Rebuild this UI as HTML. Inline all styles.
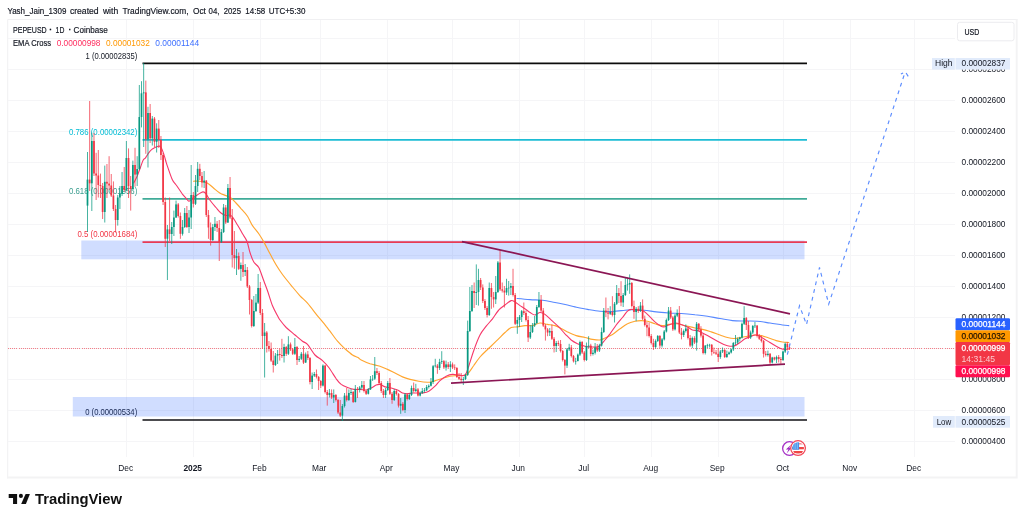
<!DOCTYPE html>
<html lang="en"><head><meta charset="utf-8"><title>PEPEUSD chart</title>
<style>html,body{margin:0;padding:0;background:#fff}body{width:1024px;height:521px;overflow:hidden}svg{display:block}</style>
</head><body>
<svg width="1024" height="521" viewBox="0 0 1024 521" font-family='"Liberation Sans", sans-serif'>
<rect width="1024" height="521" fill="#fff"/>
<path d="M7.7 478.4V19.5H1017.6" fill="none" stroke="#f0f0f2" stroke-width="1"/>
<path d="M1016.7 19.5V477.5H7.2" fill="none" stroke="#f3f3f4" stroke-width="1.9"/>
<g stroke="#f5f5f7" stroke-width="1" shape-rendering="crispEdges">
<line x1="8" x2="955" y1="441.5" y2="441.5"/>
<line x1="8" x2="955" y1="410.5" y2="410.5"/>
<line x1="8" x2="955" y1="379.5" y2="379.5"/>
<line x1="8" x2="955" y1="348.5" y2="348.5"/>
<line x1="8" x2="955" y1="317.5" y2="317.5"/>
<line x1="8" x2="955" y1="286.5" y2="286.5"/>
<line x1="8" x2="955" y1="255.5" y2="255.5"/>
<line x1="8" x2="955" y1="224.5" y2="224.5"/>
<line x1="8" x2="955" y1="193.5" y2="193.5"/>
<line x1="8" x2="955" y1="162.5" y2="162.5"/>
<line x1="8" x2="955" y1="131.5" y2="131.5"/>
<line x1="8" x2="955" y1="100.5" y2="100.5"/>
<line x1="8" x2="955" y1="69.5" y2="69.5"/>
<line x1="8" x2="955" y1="38.5" y2="38.5"/>
<line x1="126.5" x2="126.5" y1="20" y2="457"/>
<line x1="193.5" x2="193.5" y1="20" y2="457"/>
<line x1="260.2" x2="260.2" y1="20" y2="457"/>
<line x1="320.0" x2="320.0" y1="20" y2="457"/>
<line x1="387.0" x2="387.0" y1="20" y2="457"/>
<line x1="452.3" x2="452.3" y1="20" y2="457"/>
<line x1="519.0" x2="519.0" y1="20" y2="457"/>
<line x1="584.5" x2="584.5" y1="20" y2="457"/>
<line x1="651.5" x2="651.5" y1="20" y2="457"/>
<line x1="718.0" x2="718.0" y1="20" y2="457"/>
<line x1="783.5" x2="783.5" y1="20" y2="457"/>
<line x1="850.5" x2="850.5" y1="20" y2="457"/>
<line x1="914.5" x2="914.5" y1="20" y2="457"/>
</g>
<g font-size="8.9" fill="#131722" stroke="#131722" stroke-width="0.18" lengthAdjust="spacingAndGlyphs">
<text x="7.4" y="13.8" textLength="59" lengthAdjust="spacingAndGlyphs">Yash_Jain_1309</text>
<text x="69.9" y="13.8" textLength="28.7" lengthAdjust="spacingAndGlyphs">created</text>
<text x="102.9" y="13.8" textLength="15.3" lengthAdjust="spacingAndGlyphs">with</text>
<text x="122.5" y="13.8" textLength="66" lengthAdjust="spacingAndGlyphs">TradingView.com,</text>
<text x="193" y="13.8" textLength="12.9" lengthAdjust="spacingAndGlyphs">Oct</text>
<text x="208.6" y="13.8" textLength="10.9" lengthAdjust="spacingAndGlyphs">04,</text>
<text x="223.75" y="13.8" textLength="17.2" lengthAdjust="spacingAndGlyphs">2025</text>
<text x="245.3" y="13.8" textLength="20" lengthAdjust="spacingAndGlyphs">14:58</text>
<text x="268.75" y="13.8" textLength="36.7" lengthAdjust="spacingAndGlyphs">UTC+5:30</text>
</g>
<text x="85.6" y="58.6" font-size="8.6" fill="#131722" textLength="51.7" lengthAdjust="spacingAndGlyphs">1 (0.00002835)</text>
<text x="69" y="134.9" font-size="8.6" fill="#00bcd4" textLength="68.3" lengthAdjust="spacingAndGlyphs">0.786 (0.00002342)</text>
<text x="69" y="194.4" font-size="8.6" fill="#3a9e8f" textLength="68.3" lengthAdjust="spacingAndGlyphs">0.618 (0.00001956)</text>
<text x="77.5" y="236.8" font-size="8.6" fill="#f23645" textLength="59.8" lengthAdjust="spacingAndGlyphs">0.5 (0.00001684)</text>
<text x="85.2" y="414.5" font-size="8.6" fill="#131722" textLength="52" lengthAdjust="spacingAndGlyphs">0 (0.00000534)</text>
<rect x="81.3" y="240.5" width="723.2" height="18.8" fill="#2962ff" fill-opacity="0.22"/>
<rect x="72.8" y="397" width="731.7" height="19.5" fill="#2962ff" fill-opacity="0.22"/>
<g stroke-width="1.7" fill="none">
<line x1="142.5" x2="807" y1="63.3" y2="63.3" stroke="#0c0c0c"/>
<line x1="142.5" x2="807" y1="139.85" y2="139.85" stroke="#1dbcd4"/>
<line x1="142.5" x2="807" y1="198.9" y2="198.9" stroke="#40ab98"/>
<line x1="142.5" x2="807" y1="242.2" y2="242.2" stroke="#e83a55"/>
<line x1="142.5" x2="807" y1="420" y2="420" stroke="#101014"/>
</g>
<line x1="8" x2="955" y1="348.5" y2="348.5" stroke="#f23645" stroke-width="1" stroke-dasharray="1 1.1" opacity="0.62" shape-rendering="crispEdges"/>
<path d="M517.0 298.5C519.2 298.7 525.8 299.3 530.0 299.6C534.2 299.9 538.3 299.8 542.5 300.2C546.7 300.7 550.8 301.7 555.0 302.5C559.2 303.3 564.2 304.3 567.5 305.0C570.8 305.7 571.7 306.2 575.0 306.9C578.3 307.6 583.3 308.7 587.5 309.4C591.7 310.1 595.8 310.9 600.0 311.2C604.2 311.6 608.3 311.7 612.5 311.5C616.7 311.3 621.9 310.5 625.0 310.2C628.1 310.0 628.1 309.8 631.2 309.8C634.4 309.8 639.6 309.9 643.8 310.2C647.9 310.6 652.1 311.4 656.2 311.9C660.4 312.4 664.6 312.7 668.8 313.0C672.9 313.3 676.9 313.2 681.2 313.5C685.6 313.8 690.6 314.3 695.0 314.8C699.4 315.2 703.3 315.6 707.5 316.2C711.7 316.9 715.8 317.8 720.0 318.5C724.2 319.2 728.3 320.2 732.5 320.6C736.7 321.0 740.8 320.9 745.0 321.0C749.2 321.1 753.3 320.9 757.5 321.2C761.7 321.6 765.8 322.4 770.0 323.0C774.2 323.6 779.4 324.6 782.5 325.0C785.6 325.4 787.7 325.5 788.8 325.6" fill="none" stroke="#5788ff" stroke-width="1.1" stroke-linejoin="round" stroke-linecap="round"/>
<path d="M193.5 181.2C194.5 181.2 197.5 181.0 199.8 181.2C202.0 181.5 205.0 181.9 207.2 183.0C209.5 184.1 211.4 186.3 213.5 188.0C215.6 189.7 217.7 191.7 219.8 193.0C221.8 194.3 224.1 194.8 226.0 195.6C227.9 196.4 229.3 196.8 231.0 198.0C232.7 199.2 234.3 201.2 236.0 203.0C237.7 204.8 239.3 206.5 241.2 208.8C243.2 211.0 245.6 213.4 247.5 216.2C249.4 219.1 250.6 222.7 252.5 225.6C254.4 228.5 256.9 231.0 258.8 233.8C260.6 236.5 261.9 238.6 263.8 241.9C265.6 245.2 267.9 249.9 270.0 253.8C272.1 257.6 274.2 261.5 276.2 265.0C278.3 268.5 279.8 270.8 282.5 274.5C285.2 278.2 289.6 283.5 292.5 287.0C295.4 290.5 297.5 293.0 300.0 295.8C302.5 298.5 304.6 299.9 307.5 303.2C310.4 306.6 314.4 311.9 317.5 315.8C320.6 319.6 324.2 323.8 326.2 326.4C328.3 329.0 328.1 328.8 330.0 331.2C331.9 333.7 335.0 338.3 337.5 341.2C340.0 344.2 342.5 346.5 345.0 348.8C347.5 351.0 350.3 353.5 352.5 355.0C354.7 356.5 356.5 356.7 358.0 357.5C359.5 358.3 359.2 359.0 361.2 360.0C363.2 361.0 366.9 362.7 370.0 363.8C373.1 364.8 377.1 365.3 380.0 366.2C382.9 367.2 385.0 368.3 387.5 369.4C390.0 370.5 392.5 371.8 395.0 373.0C397.5 374.2 400.0 375.8 402.5 376.9C405.0 378.0 407.3 378.7 410.0 379.4C412.7 380.1 415.8 380.8 418.8 381.2C421.7 381.7 425.4 382.1 427.5 382.2C429.6 382.4 429.6 382.3 431.2 381.9C432.9 381.5 435.4 380.6 437.5 380.0C439.6 379.4 441.7 378.6 443.8 378.0C445.8 377.4 447.9 376.6 450.0 376.2C452.1 375.9 453.8 375.8 456.2 375.6C458.8 375.4 462.9 375.8 465.0 375.2C467.1 374.7 467.3 374.1 468.8 372.5C470.2 370.9 471.9 368.1 473.8 365.5C475.6 362.9 477.7 359.7 480.0 357.0C482.3 354.3 484.8 352.1 487.5 349.5C490.2 346.9 493.3 344.1 496.2 341.2C499.2 338.4 502.5 334.8 505.0 332.5C507.5 330.2 509.2 328.4 511.2 327.5C513.3 326.6 515.2 327.2 517.5 326.9C519.8 326.6 522.5 325.8 525.0 325.6C527.5 325.4 530.0 326.0 532.5 325.6C535.0 325.2 537.5 323.2 540.0 323.0C542.5 322.8 545.0 324.0 547.5 324.4C550.0 324.8 552.7 324.9 555.0 325.6C557.3 326.3 559.2 327.4 561.2 328.5C563.3 329.6 565.0 330.7 567.5 331.9C570.0 333.1 573.3 334.7 576.2 335.6C579.2 336.5 582.3 336.9 585.0 337.5C587.7 338.1 590.0 339.0 592.5 339.4C595.0 339.8 597.9 340.2 600.0 340.0C602.1 339.8 602.9 338.9 605.0 338.0C607.1 337.1 610.0 335.9 612.5 334.4C615.0 332.9 617.5 330.5 620.0 328.8C622.5 327.0 625.0 325.0 627.5 323.8C630.0 322.5 632.7 321.8 635.0 321.2C637.3 320.7 639.2 320.6 641.2 320.6C643.3 320.6 645.2 320.7 647.5 321.2C649.8 321.8 652.5 323.0 655.0 323.8C657.5 324.5 660.2 325.5 662.5 325.6C664.8 325.7 666.5 324.7 668.8 324.4C671.0 324.1 673.5 323.6 676.2 323.8C679.0 323.9 681.9 324.9 685.0 325.6C688.1 326.3 692.1 327.4 695.0 328.0C697.9 328.6 699.8 328.8 702.5 329.4C705.2 330.0 708.3 331.0 711.2 331.9C714.2 332.8 717.3 334.1 720.0 335.0C722.7 335.9 725.2 336.9 727.5 337.5C729.8 338.1 731.5 338.5 733.8 338.5C736.0 338.5 739.0 337.9 741.2 337.5C743.5 337.1 745.2 336.7 747.5 336.2C749.8 335.8 752.7 335.1 755.0 335.0C757.3 334.9 759.0 335.1 761.2 335.6C763.5 336.1 766.2 337.2 768.8 338.0C771.2 338.8 774.0 339.9 776.2 340.6C778.5 341.3 780.4 341.7 782.5 342.0C784.6 342.3 787.7 342.4 788.8 342.5" fill="none" stroke="#ffa630" stroke-width="1.15" stroke-linejoin="round" stroke-linecap="round"/>
<path d="M133.8 183.0C134.3 181.9 135.9 179.1 137.0 176.5C138.1 173.9 139.5 169.9 140.5 167.2C141.5 164.6 142.2 162.0 143.0 160.4C143.8 158.8 144.7 159.0 145.5 157.9C146.3 156.8 147.0 155.2 148.0 153.8C149.0 152.4 150.6 150.4 151.8 149.4C152.9 148.4 153.9 148.1 154.9 147.6C155.9 147.1 157.1 146.5 158.0 146.3C158.9 146.1 159.8 145.9 160.5 146.6C161.2 147.3 161.8 148.9 162.4 150.4C163.0 151.9 163.6 153.4 164.2 155.4C164.9 157.4 165.5 160.2 166.1 162.2C166.7 164.3 166.9 164.9 168.0 167.9C169.1 170.9 171.1 177.2 172.5 180.0C173.9 182.8 174.6 182.7 176.2 185.0C177.9 187.3 180.6 191.5 182.2 193.8C183.9 196.0 185.2 197.3 186.2 198.5C187.3 199.7 187.8 200.7 188.5 201.0C189.2 201.3 189.9 200.8 190.5 200.4C191.1 200.0 191.1 199.7 192.2 198.8C193.4 197.8 195.5 196.1 197.2 195.0C199.0 193.9 201.4 192.1 202.9 191.9C204.4 191.7 204.9 192.4 206.0 193.8C207.1 195.1 208.1 197.7 209.8 200.0C211.4 202.3 214.1 205.3 216.0 207.5C217.9 209.7 219.3 211.7 221.0 213.0C222.7 214.3 224.3 215.1 226.0 215.5C227.7 215.9 229.3 214.0 231.2 215.6C233.2 217.2 235.6 222.0 237.5 225.0C239.4 228.0 240.9 231.0 242.5 233.8C244.1 236.5 245.7 238.1 246.9 241.2C248.2 244.4 248.9 249.0 250.0 252.5C251.1 256.0 252.3 259.5 253.8 262.0C255.2 264.5 257.1 264.5 258.8 267.6C260.4 270.7 262.3 276.9 263.8 280.8C265.2 284.6 266.0 286.6 267.5 290.8C269.0 294.9 270.8 301.6 272.5 305.8C274.2 309.9 276.2 313.4 277.5 315.8C278.8 318.1 278.5 318.0 280.0 320.0C281.5 322.0 283.8 325.0 286.2 327.5C288.8 330.0 292.3 332.7 295.0 335.0C297.7 337.3 300.4 339.7 302.5 341.2C304.6 342.8 305.4 342.1 307.5 344.4C309.6 346.7 312.5 352.3 315.0 355.0C317.5 357.7 320.2 358.5 322.5 360.6C324.8 362.7 326.5 364.5 328.8 367.5C331.0 370.5 334.2 375.9 336.2 378.8C338.3 381.6 339.4 382.9 341.2 384.4C343.1 385.9 345.4 386.7 347.5 387.5C349.6 388.3 351.7 389.1 353.8 389.4C355.8 389.7 357.9 389.3 360.0 389.4C362.1 389.5 364.4 390.2 366.2 390.0C368.1 389.8 369.6 388.8 371.2 388.0C372.9 387.2 374.8 385.6 376.2 385.0C377.7 384.4 378.5 384.1 380.0 384.4C381.5 384.7 383.1 386.3 385.0 386.9C386.9 387.5 389.2 387.5 391.2 388.0C393.3 388.5 395.6 389.2 397.5 390.0C399.4 390.8 400.8 392.4 402.5 393.0C404.2 393.6 405.8 393.8 407.5 393.8C409.2 393.8 410.6 393.1 412.5 393.0C414.4 392.9 417.1 393.0 418.8 393.0C420.4 393.0 420.8 393.3 422.5 393.0C424.2 392.7 426.7 392.4 428.8 391.2C430.8 390.1 433.1 388.0 435.0 386.2C436.9 384.5 438.1 382.3 440.0 380.6C441.9 378.9 444.2 377.3 446.2 376.2C448.3 375.2 450.4 374.6 452.5 374.4C454.6 374.2 456.7 374.9 458.8 375.0C460.8 375.1 463.3 376.5 465.0 375.0C466.7 373.5 467.3 370.1 468.8 366.0C470.2 361.9 471.9 355.7 473.8 350.5C475.6 345.3 477.9 339.0 480.0 335.0C482.1 331.0 484.2 329.0 486.2 326.2C488.3 323.5 490.4 321.5 492.5 318.8C494.6 316.0 496.7 312.3 498.8 310.0C500.8 307.7 502.9 306.6 505.0 305.0C507.1 303.4 509.6 301.1 511.2 300.6C512.9 300.1 513.5 301.2 515.0 302.0C516.5 302.8 518.3 304.5 520.0 305.6C521.7 306.7 523.3 307.6 525.0 308.8C526.7 309.9 528.3 311.5 530.0 312.5C531.7 313.5 533.3 315.0 535.0 315.0C536.7 315.0 538.3 312.6 540.0 312.5C541.7 312.4 542.9 312.9 545.0 314.4C547.1 315.9 550.2 319.2 552.5 321.2C554.8 323.3 556.7 324.8 558.8 326.9C560.8 329.0 562.9 331.6 565.0 333.8C567.1 335.9 569.2 338.3 571.2 340.0C573.3 341.7 575.2 342.7 577.5 343.8C579.8 344.8 582.7 345.7 585.0 346.2C587.3 346.8 589.2 346.8 591.2 346.9C593.3 347.0 595.8 347.3 597.5 346.9C599.2 346.5 600.0 345.5 601.2 344.4C602.5 343.2 603.5 341.8 605.0 340.0C606.5 338.2 608.1 336.2 610.0 333.8C611.9 331.2 614.2 327.7 616.2 325.0C618.3 322.3 620.6 319.8 622.5 317.5C624.4 315.2 626.0 312.6 627.5 311.2C629.0 309.9 629.6 309.6 631.2 309.4C632.9 309.2 635.4 309.7 637.5 310.0C639.6 310.3 641.7 310.1 643.8 311.2C645.8 312.4 648.1 315.1 650.0 316.9C651.9 318.7 653.3 320.4 655.0 321.9C656.7 323.3 658.5 324.8 660.0 325.6C661.5 326.4 662.3 327.0 663.8 326.9C665.2 326.8 666.9 325.6 668.8 325.0C670.6 324.4 672.9 323.1 675.0 323.0C677.1 322.9 679.2 323.8 681.2 324.5C683.3 325.2 685.6 326.1 687.5 327.0C689.4 327.9 690.8 329.4 692.5 330.0C694.2 330.6 695.8 330.1 697.5 330.6C699.2 331.1 700.4 331.9 702.5 333.0C704.6 334.1 707.5 335.5 710.0 336.9C712.5 338.3 715.2 340.0 717.5 341.2C719.8 342.5 721.7 343.6 723.8 344.4C725.8 345.2 728.1 346.1 730.0 346.2C731.9 346.4 733.3 346.2 735.0 345.6C736.7 345.0 738.3 343.6 740.0 342.5C741.7 341.4 743.3 339.7 745.0 338.8C746.7 337.8 748.3 337.5 750.0 336.9C751.7 336.3 753.5 335.2 755.0 335.0C756.5 334.8 757.3 335.0 758.8 335.6C760.2 336.2 761.9 337.6 763.8 338.8C765.6 339.9 767.9 341.2 770.0 342.5C772.1 343.8 774.4 345.2 776.2 346.2C778.1 347.3 779.8 348.2 781.2 348.8C782.7 349.3 783.6 349.4 785.0 349.4C786.4 349.4 788.7 348.9 789.4 348.8" fill="none" stroke="#f6386a" stroke-width="1.12" stroke-linejoin="round" stroke-linecap="round"/>
<g>
<path d="M87.50 152.0V232.0" stroke="#089981" stroke-width="0.75"/><rect x="86.65" y="179.6" width="1.7" height="26.0" fill="#089981"/>
<path d="M89.66 101.0V191.0" stroke="#f23645" stroke-width="0.75"/><rect x="88.81" y="179.6" width="1.7" height="3.7" fill="#f23645"/>
<path d="M91.82 132.5V211.0" stroke="#089981" stroke-width="0.75"/><rect x="90.97" y="141.0" width="1.7" height="42.3" fill="#089981"/>
<path d="M93.98 133.0V176.0" stroke="#f23645" stroke-width="0.75"/><rect x="93.13" y="141.0" width="1.7" height="32.5" fill="#f23645"/>
<path d="M96.14 152.8V200.0" stroke="#f23645" stroke-width="0.75"/><rect x="95.29" y="173.5" width="1.7" height="2.0" fill="#f23645"/>
<path d="M98.30 150.0V197.5" stroke="#f23645" stroke-width="0.75"/><rect x="97.45" y="175.5" width="1.7" height="9.5" fill="#f23645"/>
<path d="M100.46 173.6V198.0" stroke="#f23645" stroke-width="0.75"/><rect x="99.61" y="185.0" width="1.7" height="1.0" fill="#f23645"/>
<path d="M102.62 183.0V219.0" stroke="#f23645" stroke-width="0.75"/><rect x="101.77" y="186.0" width="1.7" height="26.0" fill="#f23645"/>
<path d="M104.78 165.6V222.5" stroke="#089981" stroke-width="0.75"/><rect x="103.93" y="181.8" width="1.7" height="30.2" fill="#089981"/>
<path d="M106.94 164.0V198.0" stroke="#f23645" stroke-width="0.75"/><rect x="106.09" y="181.8" width="1.7" height="1.8" fill="#f23645"/>
<path d="M109.10 156.2V190.0" stroke="#f23645" stroke-width="0.75"/><rect x="108.25" y="183.6" width="1.7" height="1.9" fill="#f23645"/>
<path d="M111.26 174.0V197.0" stroke="#f23645" stroke-width="0.75"/><rect x="110.41" y="185.5" width="1.7" height="10.0" fill="#f23645"/>
<path d="M113.42 181.4V211.0" stroke="#f23645" stroke-width="0.75"/><rect x="112.57" y="195.5" width="1.7" height="13.5" fill="#f23645"/>
<path d="M115.58 205.0V232.5" stroke="#f23645" stroke-width="0.75"/><rect x="114.73" y="209.0" width="1.7" height="11.0" fill="#f23645"/>
<path d="M117.74 195.0V225.6" stroke="#089981" stroke-width="0.75"/><rect x="116.89" y="197.5" width="1.7" height="22.5" fill="#089981"/>
<path d="M119.90 186.0V209.0" stroke="#089981" stroke-width="0.75"/><rect x="119.05" y="194.0" width="1.7" height="3.5" fill="#089981"/>
<path d="M122.06 172.0V196.0" stroke="#089981" stroke-width="0.75"/><rect x="121.21" y="186.0" width="1.7" height="8.0" fill="#089981"/>
<path d="M124.22 167.0V192.0" stroke="#f23645" stroke-width="0.75"/><rect x="123.37" y="186.0" width="1.7" height="4.0" fill="#f23645"/>
<path d="M126.38 141.0V191.0" stroke="#089981" stroke-width="0.75"/><rect x="125.53" y="158.0" width="1.7" height="32.0" fill="#089981"/>
<path d="M128.54 148.4V198.0" stroke="#f23645" stroke-width="0.75"/><rect x="127.69" y="158.0" width="1.7" height="28.0" fill="#f23645"/>
<path d="M130.70 176.0V210.6" stroke="#f23645" stroke-width="0.75"/><rect x="129.85" y="186.0" width="1.7" height="3.0" fill="#f23645"/>
<path d="M132.86 160.6V190.0" stroke="#089981" stroke-width="0.75"/><rect x="132.01" y="165.0" width="1.7" height="24.0" fill="#089981"/>
<path d="M135.02 147.8V186.8" stroke="#f23645" stroke-width="0.75"/><rect x="134.17" y="165.0" width="1.7" height="9.6" fill="#f23645"/>
<path d="M137.18 156.2V186.0" stroke="#089981" stroke-width="0.75"/><rect x="136.33" y="169.0" width="1.7" height="5.6" fill="#089981"/>
<path d="M139.34 85.0V170.0" stroke="#089981" stroke-width="0.75"/><rect x="138.49" y="117.0" width="1.7" height="52.0" fill="#089981"/>
<path d="M141.50 81.2V127.4" stroke="#089981" stroke-width="0.75"/><rect x="140.65" y="93.3" width="1.7" height="23.7" fill="#089981"/>
<path d="M143.66 63.0V147.0" stroke="#089981" stroke-width="0.75"/><rect x="142.81" y="92.4" width="1.7" height="0.9" fill="#089981"/>
<path d="M145.82 80.6V153.8" stroke="#f23645" stroke-width="0.75"/><rect x="144.97" y="92.4" width="1.7" height="46.9" fill="#f23645"/>
<path d="M147.98 106.8V167.5" stroke="#089981" stroke-width="0.75"/><rect x="147.13" y="113.0" width="1.7" height="26.3" fill="#089981"/>
<path d="M150.14 104.0V143.0" stroke="#f23645" stroke-width="0.75"/><rect x="149.29" y="113.0" width="1.7" height="25.3" fill="#f23645"/>
<path d="M152.30 116.0V145.5" stroke="#089981" stroke-width="0.75"/><rect x="151.45" y="118.6" width="1.7" height="19.7" fill="#089981"/>
<path d="M154.46 117.0V147.0" stroke="#f23645" stroke-width="0.75"/><rect x="153.61" y="118.6" width="1.7" height="23.2" fill="#f23645"/>
<path d="M156.62 123.3V152.5" stroke="#089981" stroke-width="0.75"/><rect x="155.77" y="128.6" width="1.7" height="13.2" fill="#089981"/>
<path d="M158.78 120.0V148.0" stroke="#f23645" stroke-width="0.75"/><rect x="157.93" y="128.6" width="1.7" height="11.3" fill="#f23645"/>
<path d="M160.94 136.0V160.0" stroke="#f23645" stroke-width="0.75"/><rect x="160.09" y="139.9" width="1.7" height="15.1" fill="#f23645"/>
<path d="M163.10 153.0V205.0" stroke="#f23645" stroke-width="0.75"/><rect x="162.25" y="155.0" width="1.7" height="47.0" fill="#f23645"/>
<path d="M165.26 197.5V247.0" stroke="#f23645" stroke-width="0.75"/><rect x="164.41" y="202.0" width="1.7" height="36.8" fill="#f23645"/>
<path d="M167.42 225.0V280.0" stroke="#089981" stroke-width="0.75"/><rect x="166.57" y="229.4" width="1.7" height="9.3" fill="#089981"/>
<path d="M169.58 197.5V241.0" stroke="#f23645" stroke-width="0.75"/><rect x="168.73" y="229.4" width="1.7" height="4.6" fill="#f23645"/>
<path d="M171.74 222.0V244.0" stroke="#089981" stroke-width="0.75"/><rect x="170.89" y="227.0" width="1.7" height="7.0" fill="#089981"/>
<path d="M173.90 210.6V236.0" stroke="#089981" stroke-width="0.75"/><rect x="173.05" y="217.5" width="1.7" height="9.5" fill="#089981"/>
<path d="M176.06 200.6V218.0" stroke="#089981" stroke-width="0.75"/><rect x="175.21" y="204.4" width="1.7" height="13.1" fill="#089981"/>
<path d="M178.22 203.0V217.5" stroke="#f23645" stroke-width="0.75"/><rect x="177.37" y="204.4" width="1.7" height="11.6" fill="#f23645"/>
<path d="M180.38 212.5V238.8" stroke="#f23645" stroke-width="0.75"/><rect x="179.53" y="216.0" width="1.7" height="17.8" fill="#f23645"/>
<path d="M182.54 220.0V235.6" stroke="#089981" stroke-width="0.75"/><rect x="181.69" y="227.0" width="1.7" height="6.8" fill="#089981"/>
<path d="M184.70 208.0V228.0" stroke="#089981" stroke-width="0.75"/><rect x="183.85" y="213.0" width="1.7" height="14.0" fill="#089981"/>
<path d="M186.86 206.0V228.0" stroke="#f23645" stroke-width="0.75"/><rect x="186.01" y="213.0" width="1.7" height="14.0" fill="#f23645"/>
<path d="M189.02 210.0V233.0" stroke="#089981" stroke-width="0.75"/><rect x="188.17" y="217.5" width="1.7" height="9.5" fill="#089981"/>
<path d="M191.18 165.0V229.0" stroke="#089981" stroke-width="0.75"/><rect x="190.33" y="195.0" width="1.7" height="22.5" fill="#089981"/>
<path d="M193.34 192.0V207.5" stroke="#f23645" stroke-width="0.75"/><rect x="192.49" y="195.0" width="1.7" height="8.8" fill="#f23645"/>
<path d="M195.50 175.0V205.0" stroke="#089981" stroke-width="0.75"/><rect x="194.65" y="186.0" width="1.7" height="17.8" fill="#089981"/>
<path d="M197.66 162.0V192.0" stroke="#089981" stroke-width="0.75"/><rect x="196.81" y="168.8" width="1.7" height="17.2" fill="#089981"/>
<path d="M199.82 163.8V180.0" stroke="#f23645" stroke-width="0.75"/><rect x="198.97" y="168.8" width="1.7" height="7.2" fill="#f23645"/>
<path d="M201.98 172.0V187.5" stroke="#f23645" stroke-width="0.75"/><rect x="201.13" y="176.0" width="1.7" height="6.5" fill="#f23645"/>
<path d="M204.14 171.0V188.0" stroke="#089981" stroke-width="0.75"/><rect x="203.29" y="180.6" width="1.7" height="1.9" fill="#089981"/>
<path d="M206.30 180.0V217.0" stroke="#f23645" stroke-width="0.75"/><rect x="205.45" y="180.6" width="1.7" height="34.4" fill="#f23645"/>
<path d="M208.46 210.0V238.8" stroke="#f23645" stroke-width="0.75"/><rect x="207.61" y="215.0" width="1.7" height="12.5" fill="#f23645"/>
<path d="M210.62 222.5V245.6" stroke="#f23645" stroke-width="0.75"/><rect x="209.77" y="227.5" width="1.7" height="12.5" fill="#f23645"/>
<path d="M212.78 224.0V241.0" stroke="#089981" stroke-width="0.75"/><rect x="211.93" y="227.0" width="1.7" height="13.0" fill="#089981"/>
<path d="M214.94 217.0V231.0" stroke="#089981" stroke-width="0.75"/><rect x="214.09" y="223.8" width="1.7" height="3.2" fill="#089981"/>
<path d="M217.10 221.0V232.0" stroke="#f23645" stroke-width="0.75"/><rect x="216.25" y="223.8" width="1.7" height="4.2" fill="#f23645"/>
<path d="M219.26 220.0V261.0" stroke="#f23645" stroke-width="0.75"/><rect x="218.41" y="228.0" width="1.7" height="14.0" fill="#f23645"/>
<path d="M221.42 229.0V243.0" stroke="#089981" stroke-width="0.75"/><rect x="220.57" y="232.0" width="1.7" height="10.0" fill="#089981"/>
<path d="M223.58 204.0V233.0" stroke="#089981" stroke-width="0.75"/><rect x="222.73" y="207.5" width="1.7" height="24.5" fill="#089981"/>
<path d="M225.74 205.0V224.0" stroke="#f23645" stroke-width="0.75"/><rect x="224.89" y="207.5" width="1.7" height="15.0" fill="#f23645"/>
<path d="M227.90 184.0V223.0" stroke="#089981" stroke-width="0.75"/><rect x="227.05" y="188.0" width="1.7" height="34.5" fill="#089981"/>
<path d="M230.06 177.0V219.0" stroke="#f23645" stroke-width="0.75"/><rect x="229.21" y="188.0" width="1.7" height="29.5" fill="#f23645"/>
<path d="M232.22 209.0V267.5" stroke="#f23645" stroke-width="0.75"/><rect x="231.37" y="217.5" width="1.7" height="37.5" fill="#f23645"/>
<path d="M234.38 231.0V268.8" stroke="#f23645" stroke-width="0.75"/><rect x="233.53" y="255.0" width="1.7" height="3.0" fill="#f23645"/>
<path d="M236.54 249.0V275.0" stroke="#089981" stroke-width="0.75"/><rect x="235.69" y="256.0" width="1.7" height="2.0" fill="#089981"/>
<path d="M238.70 252.5V270.0" stroke="#f23645" stroke-width="0.75"/><rect x="237.85" y="256.0" width="1.7" height="12.9" fill="#f23645"/>
<path d="M240.86 262.5V280.8" stroke="#089981" stroke-width="0.75"/><rect x="240.01" y="265.0" width="1.7" height="3.9" fill="#089981"/>
<path d="M243.02 252.0V277.0" stroke="#f23645" stroke-width="0.75"/><rect x="242.17" y="265.0" width="1.7" height="7.0" fill="#f23645"/>
<path d="M245.18 264.0V276.0" stroke="#089981" stroke-width="0.75"/><rect x="244.33" y="270.0" width="1.7" height="2.0" fill="#089981"/>
<path d="M247.34 267.0V288.0" stroke="#f23645" stroke-width="0.75"/><rect x="246.49" y="270.0" width="1.7" height="16.4" fill="#f23645"/>
<path d="M249.50 285.0V314.5" stroke="#f23645" stroke-width="0.75"/><rect x="248.65" y="286.4" width="1.7" height="13.6" fill="#f23645"/>
<path d="M251.66 299.0V327.5" stroke="#f23645" stroke-width="0.75"/><rect x="250.81" y="300.0" width="1.7" height="26.0" fill="#f23645"/>
<path d="M253.82 296.0V327.0" stroke="#089981" stroke-width="0.75"/><rect x="252.97" y="311.0" width="1.7" height="15.0" fill="#089981"/>
<path d="M255.98 294.0V312.0" stroke="#089981" stroke-width="0.75"/><rect x="255.13" y="302.6" width="1.7" height="8.4" fill="#089981"/>
<path d="M258.14 274.0V304.0" stroke="#089981" stroke-width="0.75"/><rect x="257.29" y="288.0" width="1.7" height="14.6" fill="#089981"/>
<path d="M260.30 282.0V315.0" stroke="#f23645" stroke-width="0.75"/><rect x="259.45" y="288.0" width="1.7" height="25.0" fill="#f23645"/>
<path d="M262.46 309.0V348.8" stroke="#f23645" stroke-width="0.75"/><rect x="261.61" y="313.0" width="1.7" height="23.0" fill="#f23645"/>
<path d="M264.62 323.0V377.5" stroke="#089981" stroke-width="0.75"/><rect x="263.77" y="332.5" width="1.7" height="3.5" fill="#089981"/>
<path d="M266.78 331.0V352.5" stroke="#f23645" stroke-width="0.75"/><rect x="265.93" y="332.5" width="1.7" height="13.5" fill="#f23645"/>
<path d="M268.94 341.0V351.5" stroke="#f23645" stroke-width="0.75"/><rect x="268.09" y="346.0" width="1.7" height="3.0" fill="#f23645"/>
<path d="M271.10 342.5V362.0" stroke="#f23645" stroke-width="0.75"/><rect x="270.25" y="349.0" width="1.7" height="11.6" fill="#f23645"/>
<path d="M273.26 351.0V372.5" stroke="#f23645" stroke-width="0.75"/><rect x="272.41" y="360.6" width="1.7" height="4.4" fill="#f23645"/>
<path d="M275.42 353.0V366.0" stroke="#089981" stroke-width="0.75"/><rect x="274.57" y="355.6" width="1.7" height="9.4" fill="#089981"/>
<path d="M277.58 350.0V364.0" stroke="#089981" stroke-width="0.75"/><rect x="276.73" y="354.0" width="1.7" height="1.6" fill="#089981"/>
<path d="M279.74 348.8V360.6" stroke="#f23645" stroke-width="0.75"/><rect x="278.89" y="354.0" width="1.7" height="1.0" fill="#f23645"/>
<path d="M281.90 338.8V358.0" stroke="#f23645" stroke-width="0.75"/><rect x="281.05" y="355.0" width="1.7" height="1.0" fill="#f23645"/>
<path d="M284.06 343.8V362.5" stroke="#089981" stroke-width="0.75"/><rect x="283.21" y="347.0" width="1.7" height="9.0" fill="#089981"/>
<path d="M286.22 346.0V356.0" stroke="#f23645" stroke-width="0.75"/><rect x="285.37" y="347.0" width="1.7" height="6.8" fill="#f23645"/>
<path d="M288.38 336.2V355.0" stroke="#089981" stroke-width="0.75"/><rect x="287.53" y="344.4" width="1.7" height="9.4" fill="#089981"/>
<path d="M290.54 342.5V351.0" stroke="#f23645" stroke-width="0.75"/><rect x="289.69" y="344.4" width="1.7" height="5.0" fill="#f23645"/>
<path d="M292.70 348.0V355.0" stroke="#f23645" stroke-width="0.75"/><rect x="291.85" y="349.4" width="1.7" height="4.4" fill="#f23645"/>
<path d="M294.86 338.0V355.0" stroke="#089981" stroke-width="0.75"/><rect x="294.01" y="347.0" width="1.7" height="6.8" fill="#089981"/>
<path d="M297.02 346.0V365.0" stroke="#f23645" stroke-width="0.75"/><rect x="296.17" y="347.0" width="1.7" height="13.0" fill="#f23645"/>
<path d="M299.18 356.0V362.0" stroke="#089981" stroke-width="0.75"/><rect x="298.33" y="358.8" width="1.7" height="1.2" fill="#089981"/>
<path d="M301.34 352.0V360.0" stroke="#089981" stroke-width="0.75"/><rect x="300.49" y="353.8" width="1.7" height="5.0" fill="#089981"/>
<path d="M303.50 346.0V364.0" stroke="#f23645" stroke-width="0.75"/><rect x="302.65" y="353.8" width="1.7" height="8.8" fill="#f23645"/>
<path d="M305.66 352.5V363.0" stroke="#089981" stroke-width="0.75"/><rect x="304.81" y="354.4" width="1.7" height="8.1" fill="#089981"/>
<path d="M307.82 351.0V360.0" stroke="#f23645" stroke-width="0.75"/><rect x="306.97" y="354.4" width="1.7" height="3.6" fill="#f23645"/>
<path d="M309.98 357.0V384.4" stroke="#f23645" stroke-width="0.75"/><rect x="309.13" y="358.0" width="1.7" height="24.0" fill="#f23645"/>
<path d="M312.14 372.5V389.0" stroke="#089981" stroke-width="0.75"/><rect x="311.29" y="375.6" width="1.7" height="6.4" fill="#089981"/>
<path d="M314.30 372.0V377.0" stroke="#089981" stroke-width="0.75"/><rect x="313.45" y="374.0" width="1.7" height="1.6" fill="#089981"/>
<path d="M316.46 369.5V378.5" stroke="#f23645" stroke-width="0.75"/><rect x="315.61" y="374.0" width="1.7" height="3.0" fill="#f23645"/>
<path d="M318.62 376.0V390.0" stroke="#f23645" stroke-width="0.75"/><rect x="317.77" y="377.0" width="1.7" height="4.0" fill="#f23645"/>
<path d="M320.78 380.0V388.0" stroke="#f23645" stroke-width="0.75"/><rect x="319.93" y="381.0" width="1.7" height="4.6" fill="#f23645"/>
<path d="M322.94 364.4V386.5" stroke="#089981" stroke-width="0.75"/><rect x="322.09" y="365.6" width="1.7" height="20.0" fill="#089981"/>
<path d="M325.10 365.0V393.5" stroke="#f23645" stroke-width="0.75"/><rect x="324.25" y="365.6" width="1.7" height="26.4" fill="#f23645"/>
<path d="M327.26 390.0V405.6" stroke="#f23645" stroke-width="0.75"/><rect x="326.41" y="392.0" width="1.7" height="3.0" fill="#f23645"/>
<path d="M329.42 389.0V397.5" stroke="#089981" stroke-width="0.75"/><rect x="328.57" y="393.0" width="1.7" height="2.0" fill="#089981"/>
<path d="M331.58 389.4V399.0" stroke="#f23645" stroke-width="0.75"/><rect x="330.73" y="393.0" width="1.7" height="4.5" fill="#f23645"/>
<path d="M333.74 389.4V403.0" stroke="#089981" stroke-width="0.75"/><rect x="332.89" y="395.0" width="1.7" height="2.5" fill="#089981"/>
<path d="M335.90 394.0V401.5" stroke="#f23645" stroke-width="0.75"/><rect x="335.05" y="395.0" width="1.7" height="5.0" fill="#f23645"/>
<path d="M338.06 399.0V414.0" stroke="#f23645" stroke-width="0.75"/><rect x="337.21" y="400.0" width="1.7" height="12.5" fill="#f23645"/>
<path d="M340.22 400.0V417.0" stroke="#f23645" stroke-width="0.75"/><rect x="339.37" y="412.5" width="1.7" height="3.1" fill="#f23645"/>
<path d="M342.38 404.0V421.0" stroke="#089981" stroke-width="0.75"/><rect x="341.53" y="406.0" width="1.7" height="9.6" fill="#089981"/>
<path d="M344.54 393.0V407.5" stroke="#089981" stroke-width="0.75"/><rect x="343.69" y="395.6" width="1.7" height="10.4" fill="#089981"/>
<path d="M346.70 388.0V401.5" stroke="#f23645" stroke-width="0.75"/><rect x="345.85" y="395.6" width="1.7" height="4.4" fill="#f23645"/>
<path d="M348.86 389.4V401.0" stroke="#089981" stroke-width="0.75"/><rect x="348.01" y="393.0" width="1.7" height="7.0" fill="#089981"/>
<path d="M351.02 388.8V395.0" stroke="#089981" stroke-width="0.75"/><rect x="350.17" y="392.0" width="1.7" height="1.0" fill="#089981"/>
<path d="M353.18 391.0V403.0" stroke="#f23645" stroke-width="0.75"/><rect x="352.33" y="392.0" width="1.7" height="10.0" fill="#f23645"/>
<path d="M355.34 385.0V402.5" stroke="#089981" stroke-width="0.75"/><rect x="354.49" y="388.8" width="1.7" height="13.2" fill="#089981"/>
<path d="M357.50 387.0V398.0" stroke="#f23645" stroke-width="0.75"/><rect x="356.65" y="388.8" width="1.7" height="1.2" fill="#f23645"/>
<path d="M359.66 386.0V392.5" stroke="#089981" stroke-width="0.75"/><rect x="358.81" y="387.5" width="1.7" height="2.5" fill="#089981"/>
<path d="M361.82 381.0V389.0" stroke="#089981" stroke-width="0.75"/><rect x="360.97" y="385.0" width="1.7" height="2.5" fill="#089981"/>
<path d="M363.98 381.0V392.5" stroke="#f23645" stroke-width="0.75"/><rect x="363.13" y="385.0" width="1.7" height="6.0" fill="#f23645"/>
<path d="M366.14 390.0V395.0" stroke="#f23645" stroke-width="0.75"/><rect x="365.29" y="391.0" width="1.7" height="2.8" fill="#f23645"/>
<path d="M368.30 388.0V394.5" stroke="#089981" stroke-width="0.75"/><rect x="367.45" y="389.4" width="1.7" height="4.4" fill="#089981"/>
<path d="M370.46 376.0V390.0" stroke="#089981" stroke-width="0.75"/><rect x="369.61" y="379.4" width="1.7" height="10.0" fill="#089981"/>
<path d="M372.62 375.0V381.0" stroke="#089981" stroke-width="0.75"/><rect x="371.77" y="378.8" width="1.7" height="0.6" fill="#089981"/>
<path d="M374.78 357.0V380.0" stroke="#089981" stroke-width="0.75"/><rect x="373.93" y="371.2" width="1.7" height="7.5" fill="#089981"/>
<path d="M376.94 368.0V375.0" stroke="#f23645" stroke-width="0.75"/><rect x="376.09" y="371.2" width="1.7" height="1.8" fill="#f23645"/>
<path d="M379.10 371.0V384.5" stroke="#f23645" stroke-width="0.75"/><rect x="378.25" y="373.0" width="1.7" height="10.0" fill="#f23645"/>
<path d="M381.26 381.0V393.0" stroke="#f23645" stroke-width="0.75"/><rect x="380.41" y="383.0" width="1.7" height="8.0" fill="#f23645"/>
<path d="M383.42 389.0V398.0" stroke="#f23645" stroke-width="0.75"/><rect x="382.57" y="391.0" width="1.7" height="4.0" fill="#f23645"/>
<path d="M385.58 388.0V398.0" stroke="#089981" stroke-width="0.75"/><rect x="384.73" y="390.0" width="1.7" height="5.0" fill="#089981"/>
<path d="M387.74 381.0V391.0" stroke="#089981" stroke-width="0.75"/><rect x="386.89" y="383.0" width="1.7" height="7.0" fill="#089981"/>
<path d="M389.90 378.0V395.0" stroke="#f23645" stroke-width="0.75"/><rect x="389.05" y="383.0" width="1.7" height="10.8" fill="#f23645"/>
<path d="M392.06 392.0V403.8" stroke="#f23645" stroke-width="0.75"/><rect x="391.21" y="393.8" width="1.7" height="6.2" fill="#f23645"/>
<path d="M394.22 389.0V401.0" stroke="#089981" stroke-width="0.75"/><rect x="393.37" y="391.0" width="1.7" height="9.0" fill="#089981"/>
<path d="M396.38 389.4V395.5" stroke="#f23645" stroke-width="0.75"/><rect x="395.53" y="391.0" width="1.7" height="3.0" fill="#f23645"/>
<path d="M398.54 393.0V407.5" stroke="#f23645" stroke-width="0.75"/><rect x="397.69" y="394.0" width="1.7" height="11.6" fill="#f23645"/>
<path d="M400.70 398.0V413.8" stroke="#089981" stroke-width="0.75"/><rect x="399.85" y="403.8" width="1.7" height="1.9" fill="#089981"/>
<path d="M402.86 402.0V411.2" stroke="#f23645" stroke-width="0.75"/><rect x="402.01" y="403.8" width="1.7" height="6.2" fill="#f23645"/>
<path d="M405.02 393.0V413.0" stroke="#089981" stroke-width="0.75"/><rect x="404.17" y="394.4" width="1.7" height="15.6" fill="#089981"/>
<path d="M407.18 393.0V400.5" stroke="#f23645" stroke-width="0.75"/><rect x="406.33" y="394.4" width="1.7" height="4.6" fill="#f23645"/>
<path d="M409.34 393.5V400.0" stroke="#089981" stroke-width="0.75"/><rect x="408.49" y="395.0" width="1.7" height="4.0" fill="#089981"/>
<path d="M411.50 385.6V396.0" stroke="#089981" stroke-width="0.75"/><rect x="410.65" y="388.0" width="1.7" height="7.0" fill="#089981"/>
<path d="M413.66 382.5V392.5" stroke="#f23645" stroke-width="0.75"/><rect x="412.81" y="388.0" width="1.7" height="3.0" fill="#f23645"/>
<path d="M415.82 383.8V392.0" stroke="#089981" stroke-width="0.75"/><rect x="414.97" y="389.4" width="1.7" height="1.6" fill="#089981"/>
<path d="M417.98 388.0V396.5" stroke="#f23645" stroke-width="0.75"/><rect x="417.13" y="389.4" width="1.7" height="6.2" fill="#f23645"/>
<path d="M420.14 391.5V396.5" stroke="#089981" stroke-width="0.75"/><rect x="419.29" y="393.0" width="1.7" height="2.6" fill="#089981"/>
<path d="M422.30 388.0V394.0" stroke="#089981" stroke-width="0.75"/><rect x="421.45" y="391.0" width="1.7" height="2.0" fill="#089981"/>
<path d="M424.46 388.0V392.5" stroke="#089981" stroke-width="0.75"/><rect x="423.61" y="390.3" width="1.7" height="0.7" fill="#089981"/>
<path d="M426.62 385.0V391.0" stroke="#089981" stroke-width="0.75"/><rect x="425.77" y="387.0" width="1.7" height="3.3" fill="#089981"/>
<path d="M428.78 384.4V388.5" stroke="#089981" stroke-width="0.75"/><rect x="427.93" y="385.8" width="1.7" height="1.2" fill="#089981"/>
<path d="M430.94 378.0V386.5" stroke="#089981" stroke-width="0.75"/><rect x="430.09" y="382.0" width="1.7" height="3.8" fill="#089981"/>
<path d="M433.10 365.0V384.0" stroke="#089981" stroke-width="0.75"/><rect x="432.25" y="366.2" width="1.7" height="15.8" fill="#089981"/>
<path d="M435.26 358.8V367.5" stroke="#089981" stroke-width="0.75"/><rect x="434.41" y="365.6" width="1.7" height="0.6" fill="#089981"/>
<path d="M437.42 364.0V373.8" stroke="#f23645" stroke-width="0.75"/><rect x="436.57" y="365.6" width="1.7" height="2.4" fill="#f23645"/>
<path d="M439.58 358.8V370.0" stroke="#089981" stroke-width="0.75"/><rect x="438.73" y="362.0" width="1.7" height="6.0" fill="#089981"/>
<path d="M441.74 351.2V364.0" stroke="#089981" stroke-width="0.75"/><rect x="440.89" y="361.2" width="1.7" height="0.8" fill="#089981"/>
<path d="M443.90 360.0V369.0" stroke="#f23645" stroke-width="0.75"/><rect x="443.05" y="361.2" width="1.7" height="6.2" fill="#f23645"/>
<path d="M446.06 360.6V370.6" stroke="#089981" stroke-width="0.75"/><rect x="445.21" y="364.4" width="1.7" height="3.1" fill="#089981"/>
<path d="M448.22 362.0V369.0" stroke="#f23645" stroke-width="0.75"/><rect x="447.37" y="364.4" width="1.7" height="2.6" fill="#f23645"/>
<path d="M450.38 361.2V372.0" stroke="#089981" stroke-width="0.75"/><rect x="449.53" y="364.4" width="1.7" height="2.6" fill="#089981"/>
<path d="M452.54 362.5V369.0" stroke="#f23645" stroke-width="0.75"/><rect x="451.69" y="364.4" width="1.7" height="3.1" fill="#f23645"/>
<path d="M454.70 364.4V370.0" stroke="#f23645" stroke-width="0.75"/><rect x="453.85" y="367.5" width="1.7" height="0.6" fill="#f23645"/>
<path d="M456.86 367.0V378.0" stroke="#f23645" stroke-width="0.75"/><rect x="456.01" y="368.0" width="1.7" height="9.0" fill="#f23645"/>
<path d="M459.02 373.0V380.0" stroke="#f23645" stroke-width="0.75"/><rect x="458.17" y="377.0" width="1.7" height="1.8" fill="#f23645"/>
<path d="M461.18 373.0V382.0" stroke="#f23645" stroke-width="0.75"/><rect x="460.33" y="378.8" width="1.7" height="1.2" fill="#f23645"/>
<path d="M463.34 377.0V385.0" stroke="#089981" stroke-width="0.75"/><rect x="462.49" y="379.0" width="1.7" height="1.0" fill="#089981"/>
<path d="M465.50 373.8V380.0" stroke="#089981" stroke-width="0.75"/><rect x="464.65" y="375.0" width="1.7" height="4.0" fill="#089981"/>
<path d="M467.66 320.6V376.0" stroke="#089981" stroke-width="0.75"/><rect x="466.81" y="331.0" width="1.7" height="44.0" fill="#089981"/>
<path d="M469.82 287.0V332.0" stroke="#089981" stroke-width="0.75"/><rect x="468.97" y="311.0" width="1.7" height="20.0" fill="#089981"/>
<path d="M471.98 285.0V312.0" stroke="#089981" stroke-width="0.75"/><rect x="471.13" y="291.0" width="1.7" height="20.0" fill="#089981"/>
<path d="M474.14 282.5V308.0" stroke="#f23645" stroke-width="0.75"/><rect x="473.29" y="291.0" width="1.7" height="2.0" fill="#f23645"/>
<path d="M476.30 264.4V305.0" stroke="#089981" stroke-width="0.75"/><rect x="475.45" y="292.0" width="1.7" height="1.0" fill="#089981"/>
<path d="M478.46 268.8V305.6" stroke="#089981" stroke-width="0.75"/><rect x="477.61" y="280.0" width="1.7" height="12.0" fill="#089981"/>
<path d="M480.62 278.0V290.0" stroke="#f23645" stroke-width="0.75"/><rect x="479.77" y="280.0" width="1.7" height="7.5" fill="#f23645"/>
<path d="M482.78 284.4V303.0" stroke="#f23645" stroke-width="0.75"/><rect x="481.93" y="287.5" width="1.7" height="13.5" fill="#f23645"/>
<path d="M484.94 299.0V310.0" stroke="#f23645" stroke-width="0.75"/><rect x="484.09" y="301.0" width="1.7" height="7.0" fill="#f23645"/>
<path d="M487.10 306.0V317.5" stroke="#f23645" stroke-width="0.75"/><rect x="486.25" y="308.0" width="1.7" height="7.0" fill="#f23645"/>
<path d="M489.26 282.5V316.0" stroke="#089981" stroke-width="0.75"/><rect x="488.41" y="288.0" width="1.7" height="27.0" fill="#089981"/>
<path d="M491.42 283.0V308.8" stroke="#f23645" stroke-width="0.75"/><rect x="490.57" y="288.0" width="1.7" height="9.0" fill="#f23645"/>
<path d="M493.58 292.0V307.5" stroke="#f23645" stroke-width="0.75"/><rect x="492.73" y="297.0" width="1.7" height="2.4" fill="#f23645"/>
<path d="M495.74 276.0V304.0" stroke="#089981" stroke-width="0.75"/><rect x="494.89" y="292.0" width="1.7" height="7.4" fill="#089981"/>
<path d="M497.90 261.0V293.0" stroke="#089981" stroke-width="0.75"/><rect x="497.05" y="262.5" width="1.7" height="29.5" fill="#089981"/>
<path d="M500.06 250.0V291.0" stroke="#f23645" stroke-width="0.75"/><rect x="499.21" y="262.5" width="1.7" height="26.9" fill="#f23645"/>
<path d="M502.22 282.5V292.5" stroke="#f23645" stroke-width="0.75"/><rect x="501.37" y="289.4" width="1.7" height="1.2" fill="#f23645"/>
<path d="M504.38 286.0V307.5" stroke="#f23645" stroke-width="0.75"/><rect x="503.53" y="290.6" width="1.7" height="1.9" fill="#f23645"/>
<path d="M506.54 278.8V295.0" stroke="#089981" stroke-width="0.75"/><rect x="505.69" y="288.0" width="1.7" height="4.5" fill="#089981"/>
<path d="M508.70 281.0V295.6" stroke="#089981" stroke-width="0.75"/><rect x="507.85" y="287.7" width="1.7" height="0.6" fill="#089981"/>
<path d="M510.86 283.0V295.0" stroke="#089981" stroke-width="0.75"/><rect x="510.01" y="286.0" width="1.7" height="1.7" fill="#089981"/>
<path d="M513.02 268.8V296.5" stroke="#f23645" stroke-width="0.75"/><rect x="512.17" y="286.0" width="1.7" height="9.0" fill="#f23645"/>
<path d="M515.18 293.0V325.0" stroke="#f23645" stroke-width="0.75"/><rect x="514.33" y="295.0" width="1.7" height="28.8" fill="#f23645"/>
<path d="M517.34 317.0V333.8" stroke="#089981" stroke-width="0.75"/><rect x="516.49" y="320.0" width="1.7" height="3.8" fill="#089981"/>
<path d="M519.50 315.0V327.0" stroke="#089981" stroke-width="0.75"/><rect x="518.65" y="317.0" width="1.7" height="3.0" fill="#089981"/>
<path d="M521.66 310.0V322.0" stroke="#089981" stroke-width="0.75"/><rect x="520.81" y="311.2" width="1.7" height="5.8" fill="#089981"/>
<path d="M523.82 302.5V315.0" stroke="#f23645" stroke-width="0.75"/><rect x="522.97" y="311.2" width="1.7" height="1.8" fill="#f23645"/>
<path d="M525.98 310.6V321.5" stroke="#f23645" stroke-width="0.75"/><rect x="525.13" y="313.0" width="1.7" height="7.0" fill="#f23645"/>
<path d="M528.14 316.0V342.0" stroke="#f23645" stroke-width="0.75"/><rect x="527.29" y="320.0" width="1.7" height="17.5" fill="#f23645"/>
<path d="M530.30 325.0V339.0" stroke="#089981" stroke-width="0.75"/><rect x="529.45" y="332.0" width="1.7" height="5.5" fill="#089981"/>
<path d="M532.46 323.0V333.0" stroke="#089981" stroke-width="0.75"/><rect x="531.61" y="325.5" width="1.7" height="6.5" fill="#089981"/>
<path d="M534.62 316.0V327.0" stroke="#089981" stroke-width="0.75"/><rect x="533.77" y="323.0" width="1.7" height="2.5" fill="#089981"/>
<path d="M536.78 305.0V324.0" stroke="#089981" stroke-width="0.75"/><rect x="535.93" y="307.0" width="1.7" height="16.0" fill="#089981"/>
<path d="M538.94 292.0V308.0" stroke="#089981" stroke-width="0.75"/><rect x="538.09" y="300.0" width="1.7" height="7.0" fill="#089981"/>
<path d="M541.10 295.0V312.0" stroke="#f23645" stroke-width="0.75"/><rect x="540.25" y="300.0" width="1.7" height="10.6" fill="#f23645"/>
<path d="M543.26 308.0V327.0" stroke="#f23645" stroke-width="0.75"/><rect x="542.41" y="310.6" width="1.7" height="15.0" fill="#f23645"/>
<path d="M545.42 324.0V340.6" stroke="#f23645" stroke-width="0.75"/><rect x="544.57" y="325.6" width="1.7" height="3.8" fill="#f23645"/>
<path d="M547.58 328.0V336.2" stroke="#f23645" stroke-width="0.75"/><rect x="546.73" y="329.4" width="1.7" height="3.1" fill="#f23645"/>
<path d="M549.74 328.0V336.0" stroke="#089981" stroke-width="0.75"/><rect x="548.89" y="331.0" width="1.7" height="1.5" fill="#089981"/>
<path d="M551.90 324.4V340.0" stroke="#f23645" stroke-width="0.75"/><rect x="551.05" y="331.0" width="1.7" height="7.8" fill="#f23645"/>
<path d="M554.06 337.0V352.5" stroke="#f23645" stroke-width="0.75"/><rect x="553.21" y="338.8" width="1.7" height="7.2" fill="#f23645"/>
<path d="M556.22 341.0V352.0" stroke="#089981" stroke-width="0.75"/><rect x="555.37" y="343.0" width="1.7" height="3.0" fill="#089981"/>
<path d="M558.38 340.6V346.0" stroke="#f23645" stroke-width="0.75"/><rect x="557.53" y="343.0" width="1.7" height="1.0" fill="#f23645"/>
<path d="M560.54 340.0V352.5" stroke="#f23645" stroke-width="0.75"/><rect x="559.69" y="344.0" width="1.7" height="7.0" fill="#f23645"/>
<path d="M562.70 350.0V361.5" stroke="#f23645" stroke-width="0.75"/><rect x="561.85" y="351.0" width="1.7" height="9.0" fill="#f23645"/>
<path d="M564.86 359.0V374.4" stroke="#f23645" stroke-width="0.75"/><rect x="564.01" y="360.0" width="1.7" height="5.6" fill="#f23645"/>
<path d="M567.02 348.0V368.0" stroke="#089981" stroke-width="0.75"/><rect x="566.17" y="349.4" width="1.7" height="16.2" fill="#089981"/>
<path d="M569.18 343.8V351.0" stroke="#089981" stroke-width="0.75"/><rect x="568.33" y="347.5" width="1.7" height="1.9" fill="#089981"/>
<path d="M571.34 345.0V357.5" stroke="#f23645" stroke-width="0.75"/><rect x="570.49" y="347.5" width="1.7" height="8.5" fill="#f23645"/>
<path d="M573.50 355.0V362.5" stroke="#f23645" stroke-width="0.75"/><rect x="572.65" y="356.0" width="1.7" height="5.3" fill="#f23645"/>
<path d="M575.66 357.8V364.6" stroke="#089981" stroke-width="0.75"/><rect x="574.81" y="361.0" width="1.7" height="0.6" fill="#089981"/>
<path d="M577.82 353.5V361.5" stroke="#089981" stroke-width="0.75"/><rect x="576.97" y="354.6" width="1.7" height="6.4" fill="#089981"/>
<path d="M579.98 340.6V356.0" stroke="#089981" stroke-width="0.75"/><rect x="579.13" y="342.0" width="1.7" height="12.6" fill="#089981"/>
<path d="M582.14 341.0V354.0" stroke="#f23645" stroke-width="0.75"/><rect x="581.29" y="342.0" width="1.7" height="10.5" fill="#f23645"/>
<path d="M584.30 351.0V361.5" stroke="#f23645" stroke-width="0.75"/><rect x="583.45" y="352.5" width="1.7" height="7.5" fill="#f23645"/>
<path d="M586.46 342.5V361.0" stroke="#089981" stroke-width="0.75"/><rect x="585.61" y="346.0" width="1.7" height="14.0" fill="#089981"/>
<path d="M588.62 336.2V348.0" stroke="#089981" stroke-width="0.75"/><rect x="587.77" y="345.6" width="1.7" height="0.6" fill="#089981"/>
<path d="M590.78 343.8V356.2" stroke="#f23645" stroke-width="0.75"/><rect x="589.93" y="345.6" width="1.7" height="8.4" fill="#f23645"/>
<path d="M592.94 349.6V355.5" stroke="#089981" stroke-width="0.75"/><rect x="592.09" y="352.8" width="1.7" height="1.2" fill="#089981"/>
<path d="M595.10 343.0V354.5" stroke="#089981" stroke-width="0.75"/><rect x="594.25" y="347.5" width="1.7" height="5.3" fill="#089981"/>
<path d="M597.26 344.0V352.0" stroke="#f23645" stroke-width="0.75"/><rect x="596.41" y="347.5" width="1.7" height="3.0" fill="#f23645"/>
<path d="M599.42 343.8V352.0" stroke="#089981" stroke-width="0.75"/><rect x="598.57" y="345.6" width="1.7" height="4.9" fill="#089981"/>
<path d="M601.58 327.5V346.5" stroke="#089981" stroke-width="0.75"/><rect x="600.73" y="332.0" width="1.7" height="13.6" fill="#089981"/>
<path d="M603.74 308.0V333.0" stroke="#089981" stroke-width="0.75"/><rect x="602.89" y="310.6" width="1.7" height="21.4" fill="#089981"/>
<path d="M605.90 297.5V317.0" stroke="#f23645" stroke-width="0.75"/><rect x="605.05" y="310.6" width="1.7" height="1.9" fill="#f23645"/>
<path d="M608.06 308.0V319.4" stroke="#f23645" stroke-width="0.75"/><rect x="607.21" y="312.5" width="1.7" height="1.2" fill="#f23645"/>
<path d="M610.22 306.2V315.0" stroke="#089981" stroke-width="0.75"/><rect x="609.37" y="312.0" width="1.7" height="1.8" fill="#089981"/>
<path d="M612.38 296.2V316.5" stroke="#f23645" stroke-width="0.75"/><rect x="611.53" y="312.0" width="1.7" height="3.0" fill="#f23645"/>
<path d="M614.54 302.0V322.5" stroke="#089981" stroke-width="0.75"/><rect x="613.69" y="303.8" width="1.7" height="11.2" fill="#089981"/>
<path d="M616.70 285.0V305.0" stroke="#089981" stroke-width="0.75"/><rect x="615.85" y="293.0" width="1.7" height="10.8" fill="#089981"/>
<path d="M618.86 288.0V303.0" stroke="#f23645" stroke-width="0.75"/><rect x="618.01" y="293.0" width="1.7" height="3.0" fill="#f23645"/>
<path d="M621.02 281.2V306.2" stroke="#f23645" stroke-width="0.75"/><rect x="620.17" y="296.0" width="1.7" height="6.5" fill="#f23645"/>
<path d="M623.18 293.0V307.0" stroke="#089981" stroke-width="0.75"/><rect x="622.33" y="295.0" width="1.7" height="7.5" fill="#089981"/>
<path d="M625.34 277.0V296.0" stroke="#089981" stroke-width="0.75"/><rect x="624.49" y="285.0" width="1.7" height="10.0" fill="#089981"/>
<path d="M627.50 277.5V290.6" stroke="#089981" stroke-width="0.75"/><rect x="626.65" y="284.5" width="1.7" height="0.6" fill="#089981"/>
<path d="M629.66 274.4V293.8" stroke="#089981" stroke-width="0.75"/><rect x="628.81" y="283.0" width="1.7" height="1.5" fill="#089981"/>
<path d="M631.82 282.0V307.5" stroke="#f23645" stroke-width="0.75"/><rect x="630.97" y="283.0" width="1.7" height="23.0" fill="#f23645"/>
<path d="M633.98 300.6V318.8" stroke="#f23645" stroke-width="0.75"/><rect x="633.13" y="306.0" width="1.7" height="6.0" fill="#f23645"/>
<path d="M636.14 307.0V321.2" stroke="#089981" stroke-width="0.75"/><rect x="635.29" y="308.8" width="1.7" height="3.2" fill="#089981"/>
<path d="M638.30 306.2V313.0" stroke="#f23645" stroke-width="0.75"/><rect x="637.45" y="308.8" width="1.7" height="2.2" fill="#f23645"/>
<path d="M640.46 302.0V312.0" stroke="#089981" stroke-width="0.75"/><rect x="639.61" y="305.6" width="1.7" height="5.4" fill="#089981"/>
<path d="M642.62 299.4V320.0" stroke="#f23645" stroke-width="0.75"/><rect x="641.77" y="305.6" width="1.7" height="13.1" fill="#f23645"/>
<path d="M644.78 315.6V326.5" stroke="#f23645" stroke-width="0.75"/><rect x="643.93" y="318.8" width="1.7" height="6.2" fill="#f23645"/>
<path d="M646.94 322.0V336.2" stroke="#f23645" stroke-width="0.75"/><rect x="646.09" y="325.0" width="1.7" height="2.5" fill="#f23645"/>
<path d="M649.10 322.5V337.5" stroke="#f23645" stroke-width="0.75"/><rect x="648.25" y="327.5" width="1.7" height="8.5" fill="#f23645"/>
<path d="M651.26 334.0V344.5" stroke="#f23645" stroke-width="0.75"/><rect x="650.41" y="336.0" width="1.7" height="7.0" fill="#f23645"/>
<path d="M653.42 338.8V350.0" stroke="#f23645" stroke-width="0.75"/><rect x="652.57" y="343.0" width="1.7" height="4.0" fill="#f23645"/>
<path d="M655.58 339.4V348.5" stroke="#089981" stroke-width="0.75"/><rect x="654.73" y="341.0" width="1.7" height="6.0" fill="#089981"/>
<path d="M657.74 335.0V342.0" stroke="#089981" stroke-width="0.75"/><rect x="656.89" y="336.0" width="1.7" height="5.0" fill="#089981"/>
<path d="M659.90 335.0V348.0" stroke="#f23645" stroke-width="0.75"/><rect x="659.05" y="336.0" width="1.7" height="9.6" fill="#f23645"/>
<path d="M662.06 338.0V347.5" stroke="#089981" stroke-width="0.75"/><rect x="661.21" y="339.4" width="1.7" height="6.2" fill="#089981"/>
<path d="M664.22 330.0V340.5" stroke="#089981" stroke-width="0.75"/><rect x="663.37" y="331.5" width="1.7" height="7.9" fill="#089981"/>
<path d="M666.38 318.5V332.5" stroke="#089981" stroke-width="0.75"/><rect x="665.53" y="320.0" width="1.7" height="11.5" fill="#089981"/>
<path d="M668.54 307.0V321.0" stroke="#089981" stroke-width="0.75"/><rect x="667.69" y="310.6" width="1.7" height="9.4" fill="#089981"/>
<path d="M670.70 307.0V319.0" stroke="#f23645" stroke-width="0.75"/><rect x="669.85" y="310.6" width="1.7" height="6.9" fill="#f23645"/>
<path d="M672.86 316.0V331.0" stroke="#f23645" stroke-width="0.75"/><rect x="672.01" y="317.5" width="1.7" height="11.9" fill="#f23645"/>
<path d="M675.02 314.0V330.5" stroke="#089981" stroke-width="0.75"/><rect x="674.17" y="315.6" width="1.7" height="13.8" fill="#089981"/>
<path d="M677.18 309.4V317.0" stroke="#089981" stroke-width="0.75"/><rect x="676.33" y="313.0" width="1.7" height="2.6" fill="#089981"/>
<path d="M679.34 306.0V334.0" stroke="#f23645" stroke-width="0.75"/><rect x="678.49" y="313.0" width="1.7" height="19.5" fill="#f23645"/>
<path d="M681.50 328.0V339.4" stroke="#f23645" stroke-width="0.75"/><rect x="680.65" y="332.5" width="1.7" height="2.5" fill="#f23645"/>
<path d="M683.66 329.5V337.0" stroke="#089981" stroke-width="0.75"/><rect x="682.81" y="331.0" width="1.7" height="4.0" fill="#089981"/>
<path d="M685.82 324.4V332.5" stroke="#089981" stroke-width="0.75"/><rect x="684.97" y="328.5" width="1.7" height="2.5" fill="#089981"/>
<path d="M687.98 327.0V339.5" stroke="#f23645" stroke-width="0.75"/><rect x="687.13" y="328.5" width="1.7" height="9.5" fill="#f23645"/>
<path d="M690.14 335.0V347.0" stroke="#f23645" stroke-width="0.75"/><rect x="689.29" y="338.0" width="1.7" height="7.6" fill="#f23645"/>
<path d="M692.30 336.5V348.0" stroke="#089981" stroke-width="0.75"/><rect x="691.45" y="338.0" width="1.7" height="7.6" fill="#089981"/>
<path d="M694.46 336.2V344.0" stroke="#f23645" stroke-width="0.75"/><rect x="693.61" y="338.0" width="1.7" height="4.5" fill="#f23645"/>
<path d="M696.62 322.0V350.6" stroke="#089981" stroke-width="0.75"/><rect x="695.77" y="323.8" width="1.7" height="18.8" fill="#089981"/>
<path d="M698.78 323.0V331.0" stroke="#f23645" stroke-width="0.75"/><rect x="697.93" y="323.8" width="1.7" height="5.6" fill="#f23645"/>
<path d="M700.94 326.2V337.5" stroke="#f23645" stroke-width="0.75"/><rect x="700.09" y="329.4" width="1.7" height="6.2" fill="#f23645"/>
<path d="M703.10 334.0V354.4" stroke="#f23645" stroke-width="0.75"/><rect x="702.25" y="335.6" width="1.7" height="17.4" fill="#f23645"/>
<path d="M705.26 345.0V354.5" stroke="#089981" stroke-width="0.75"/><rect x="704.41" y="345.6" width="1.7" height="7.4" fill="#089981"/>
<path d="M707.42 343.8V348.0" stroke="#089981" stroke-width="0.75"/><rect x="706.57" y="345.2" width="1.7" height="0.6" fill="#089981"/>
<path d="M709.58 343.8V347.5" stroke="#089981" stroke-width="0.75"/><rect x="708.73" y="344.8" width="1.7" height="0.6" fill="#089981"/>
<path d="M711.74 344.0V355.6" stroke="#f23645" stroke-width="0.75"/><rect x="710.89" y="344.8" width="1.7" height="7.2" fill="#f23645"/>
<path d="M713.90 347.5V354.0" stroke="#f23645" stroke-width="0.75"/><rect x="713.05" y="352.0" width="1.7" height="0.6" fill="#f23645"/>
<path d="M716.06 350.0V355.0" stroke="#f23645" stroke-width="0.75"/><rect x="715.21" y="352.5" width="1.7" height="1.2" fill="#f23645"/>
<path d="M718.22 348.0V362.0" stroke="#f23645" stroke-width="0.75"/><rect x="717.37" y="353.8" width="1.7" height="3.2" fill="#f23645"/>
<path d="M720.38 350.0V358.8" stroke="#089981" stroke-width="0.75"/><rect x="719.53" y="351.5" width="1.7" height="5.5" fill="#089981"/>
<path d="M722.54 347.5V353.0" stroke="#089981" stroke-width="0.75"/><rect x="721.69" y="350.0" width="1.7" height="1.5" fill="#089981"/>
<path d="M724.70 349.0V358.0" stroke="#f23645" stroke-width="0.75"/><rect x="723.85" y="350.0" width="1.7" height="7.0" fill="#f23645"/>
<path d="M726.86 350.6V358.0" stroke="#089981" stroke-width="0.75"/><rect x="726.01" y="354.0" width="1.7" height="3.0" fill="#089981"/>
<path d="M729.02 351.5V355.0" stroke="#089981" stroke-width="0.75"/><rect x="728.17" y="352.5" width="1.7" height="1.5" fill="#089981"/>
<path d="M731.18 348.5V353.5" stroke="#089981" stroke-width="0.75"/><rect x="730.33" y="349.4" width="1.7" height="3.1" fill="#089981"/>
<path d="M733.34 342.0V351.0" stroke="#089981" stroke-width="0.75"/><rect x="732.49" y="343.0" width="1.7" height="6.4" fill="#089981"/>
<path d="M735.50 335.0V345.0" stroke="#089981" stroke-width="0.75"/><rect x="734.65" y="342.5" width="1.7" height="0.6" fill="#089981"/>
<path d="M737.66 337.5V344.0" stroke="#089981" stroke-width="0.75"/><rect x="736.81" y="339.0" width="1.7" height="3.5" fill="#089981"/>
<path d="M739.82 336.8V341.5" stroke="#089981" stroke-width="0.75"/><rect x="738.97" y="337.5" width="1.7" height="1.5" fill="#089981"/>
<path d="M741.98 322.5V338.5" stroke="#089981" stroke-width="0.75"/><rect x="741.13" y="323.8" width="1.7" height="13.8" fill="#089981"/>
<path d="M744.14 306.2V325.0" stroke="#089981" stroke-width="0.75"/><rect x="743.29" y="318.0" width="1.7" height="5.8" fill="#089981"/>
<path d="M746.30 317.0V330.0" stroke="#f23645" stroke-width="0.75"/><rect x="745.45" y="318.0" width="1.7" height="7.0" fill="#f23645"/>
<path d="M748.46 321.0V339.0" stroke="#f23645" stroke-width="0.75"/><rect x="747.61" y="325.0" width="1.7" height="12.5" fill="#f23645"/>
<path d="M750.62 330.6V339.0" stroke="#089981" stroke-width="0.75"/><rect x="749.77" y="332.5" width="1.7" height="5.0" fill="#089981"/>
<path d="M752.78 325.0V334.0" stroke="#089981" stroke-width="0.75"/><rect x="751.93" y="326.0" width="1.7" height="6.5" fill="#089981"/>
<path d="M754.94 322.0V328.0" stroke="#089981" stroke-width="0.75"/><rect x="754.09" y="325.6" width="1.7" height="0.6" fill="#089981"/>
<path d="M757.10 325.0V337.5" stroke="#f23645" stroke-width="0.75"/><rect x="756.25" y="325.6" width="1.7" height="10.4" fill="#f23645"/>
<path d="M759.26 334.0V340.0" stroke="#f23645" stroke-width="0.75"/><rect x="758.41" y="336.0" width="1.7" height="2.8" fill="#f23645"/>
<path d="M761.42 335.6V342.5" stroke="#f23645" stroke-width="0.75"/><rect x="760.57" y="338.8" width="1.7" height="2.2" fill="#f23645"/>
<path d="M763.58 340.0V357.5" stroke="#f23645" stroke-width="0.75"/><rect x="762.73" y="341.0" width="1.7" height="12.8" fill="#f23645"/>
<path d="M765.74 351.0V356.5" stroke="#f23645" stroke-width="0.75"/><rect x="764.89" y="353.8" width="1.7" height="1.2" fill="#f23645"/>
<path d="M767.90 350.6V356.5" stroke="#089981" stroke-width="0.75"/><rect x="767.05" y="353.8" width="1.7" height="1.2" fill="#089981"/>
<path d="M770.06 353.0V364.4" stroke="#f23645" stroke-width="0.75"/><rect x="769.21" y="353.8" width="1.7" height="8.8" fill="#f23645"/>
<path d="M772.22 356.8V363.5" stroke="#089981" stroke-width="0.75"/><rect x="771.37" y="357.5" width="1.7" height="5.0" fill="#089981"/>
<path d="M774.38 356.8V360.5" stroke="#f23645" stroke-width="0.75"/><rect x="773.53" y="357.5" width="1.7" height="1.9" fill="#f23645"/>
<path d="M776.54 355.6V363.0" stroke="#089981" stroke-width="0.75"/><rect x="775.69" y="357.0" width="1.7" height="2.4" fill="#089981"/>
<path d="M778.70 355.0V362.5" stroke="#f23645" stroke-width="0.75"/><rect x="777.85" y="357.0" width="1.7" height="2.0" fill="#f23645"/>
<path d="M780.86 357.0V363.8" stroke="#f23645" stroke-width="0.75"/><rect x="780.01" y="359.0" width="1.7" height="1.0" fill="#f23645"/>
<path d="M783.02 350.6V361.0" stroke="#089981" stroke-width="0.75"/><rect x="782.17" y="351.5" width="1.7" height="8.5" fill="#089981"/>
<path d="M785.18 342.5V353.0" stroke="#089981" stroke-width="0.75"/><rect x="784.33" y="343.8" width="1.7" height="7.8" fill="#089981"/>
<path d="M787.34 342.0V350.5" stroke="#f23645" stroke-width="0.75"/><rect x="786.49" y="343.8" width="1.7" height="3.6" fill="#f23645"/>
<path d="M789.50 343.8V350.0" stroke="#f23645" stroke-width="0.75"/><rect x="788.65" y="347.3" width="1.7" height="1.4" fill="#f23645"/>
</g>
<line x1="462" y1="241.6" x2="790" y2="313.8" stroke="#8b1654" stroke-width="1.7"/>
<line x1="451" y1="383.1" x2="785" y2="364.1" stroke="#8b1654" stroke-width="1.7"/>
<polyline points="787,356 799.5,305.7 806.5,324.5 819.5,267.5 828.7,304.2 905,72.5" fill="none" stroke="#5b8cff" stroke-width="1.15" stroke-dasharray="3.8 4.12" stroke-dashoffset="-1.35"/>
<path d="M900.9 74.1L903.1 73M906.1 73L908.2 76.4" fill="none" stroke="#5b8cff" stroke-width="1.15"/>
<g font-size="8.9" fill="#131722">
<text x="961.5" y="444.1" textLength="44" lengthAdjust="spacingAndGlyphs">0.00000400</text>
<text x="961.5" y="413.1" textLength="44" lengthAdjust="spacingAndGlyphs">0.00000600</text>
<text x="961.5" y="382.1" textLength="44" lengthAdjust="spacingAndGlyphs">0.00000800</text>
<text x="961.5" y="351.1" textLength="44" lengthAdjust="spacingAndGlyphs">0.00001000</text>
<text x="961.5" y="320.1" textLength="44" lengthAdjust="spacingAndGlyphs">0.00001200</text>
<text x="961.5" y="289.1" textLength="44" lengthAdjust="spacingAndGlyphs">0.00001400</text>
<text x="961.5" y="258.1" textLength="44" lengthAdjust="spacingAndGlyphs">0.00001600</text>
<text x="961.5" y="227.1" textLength="44" lengthAdjust="spacingAndGlyphs">0.00001800</text>
<text x="961.5" y="196.1" textLength="44" lengthAdjust="spacingAndGlyphs">0.00002000</text>
<text x="961.5" y="165.1" textLength="44" lengthAdjust="spacingAndGlyphs">0.00002200</text>
<text x="961.5" y="134.1" textLength="44" lengthAdjust="spacingAndGlyphs">0.00002400</text>
<text x="961.5" y="103.1" textLength="44" lengthAdjust="spacingAndGlyphs">0.00002600</text>
<text x="961.5" y="72.1" textLength="44" lengthAdjust="spacingAndGlyphs">0.00002800</text>
</g>
<rect x="957.5" y="22.3" width="56.5" height="18.5" rx="2.2" fill="#fff" stroke="#ececef" stroke-width="1"/>
<text x="964.5" y="34.8" font-size="8.8" fill="#131722" stroke="#131722" stroke-width="0.2" textLength="14.8" lengthAdjust="spacingAndGlyphs">USD</text>
<rect x="932" y="58" width="22.8" height="11.6" fill="#e1ebfb"/><rect x="955.5" y="58" width="54.5" height="11.6" fill="#e1ebfb"/>
<text x="935" y="66.4" font-size="8.9" fill="#131722" textLength="17.5" lengthAdjust="spacingAndGlyphs">High</text>
<text x="961.5" y="66.4" font-size="8.9" fill="#131722" textLength="44" lengthAdjust="spacingAndGlyphs">0.00002837</text>
<rect x="933" y="416" width="21.8" height="11.7" fill="#e1ebfb"/><rect x="955.5" y="416" width="54.5" height="11.7" fill="#e1ebfb"/>
<text x="936.7" y="424.5" font-size="8.9" fill="#131722" textLength="14.6" lengthAdjust="spacingAndGlyphs">Low</text>
<text x="961.5" y="424.5" font-size="8.9" fill="#131722" textLength="44" lengthAdjust="spacingAndGlyphs">0.00000525</text>
<rect x="955.5" y="318.3" width="54.5" height="12" rx="1.2" fill="#2962ff"/>
<rect x="955.5" y="330.2" width="54.5" height="12" rx="1.2" fill="#ff9800"/>
<rect x="955.5" y="342.1" width="54.5" height="23.2" rx="1.2" fill="#f23645"/>
<rect x="955.5" y="365.2" width="54.5" height="12" rx="1.2" fill="#ff0f4f"/>
<g font-size="8.9" stroke-width="0.25" paint-order="stroke">
<text x="961.5" y="327.3" fill="#fff" stroke="#fff" textLength="44" lengthAdjust="spacingAndGlyphs">0.00001144</text>
<text x="961.5" y="339.3" fill="#241500" stroke="#241500" textLength="44" lengthAdjust="spacingAndGlyphs">0.00001032</text>
<text x="961.5" y="351.3" fill="#fff" stroke="#fff" textLength="44" lengthAdjust="spacingAndGlyphs">0.00000999</text>
<text x="961.5" y="374.3" fill="#fff" stroke="#fff" textLength="44" lengthAdjust="spacingAndGlyphs">0.00000998</text>
</g>
<text x="961.5" y="362" font-size="8.9" fill="#fbc9ce" textLength="33.5" lengthAdjust="spacingAndGlyphs">14:31:45</text>
<g font-size="8.7" fill="#131722" stroke="#131722" stroke-width="0.18"><text x="13" y="32.8" textLength="33.7" lengthAdjust="spacingAndGlyphs">PEPEUSD</text><text x="49.2" y="32.8" font-weight="bold">·</text><text x="55.6" y="32.8" textLength="8.7" lengthAdjust="spacingAndGlyphs">1D</text><text x="68.5" y="32.8" font-weight="bold">·</text><text x="73.6" y="32.8" textLength="34.2" lengthAdjust="spacingAndGlyphs">Coinbase</text></g>
<text x="13" y="45.7" font-size="8.7" fill="#131722" stroke="#131722" stroke-width="0.18" textLength="38" lengthAdjust="spacingAndGlyphs">EMA Cross</text>
<text x="56.7" y="45.7" font-size="8.8" fill="#ff2d5f" textLength="43.8" lengthAdjust="spacingAndGlyphs">0.00000998</text>
<text x="106" y="45.7" font-size="8.8" fill="#ff9800" textLength="43.8" lengthAdjust="spacingAndGlyphs">0.00001032</text>
<text x="155.3" y="45.7" font-size="8.8" fill="#3d6fff" textLength="43.8" lengthAdjust="spacingAndGlyphs">0.00001144</text>
<g font-size="8.4" fill="#131722" text-anchor="middle">
<text x="125.7" y="470.8">Dec</text>
<text x="192.7" y="470.8" font-weight="bold">2025</text>
<text x="259.4" y="470.8">Feb</text>
<text x="319.2" y="470.8">Mar</text>
<text x="386.2" y="470.8">Apr</text>
<text x="451.5" y="470.8">May</text>
<text x="518.2" y="470.8">Jun</text>
<text x="583.7" y="470.8">Jul</text>
<text x="650.7" y="470.8">Aug</text>
<text x="717.2" y="470.8">Sep</text>
<text x="782.7" y="470.8">Oct</text>
<text x="849.7" y="470.8">Nov</text>
<text x="913.7" y="470.8">Dec</text>
</g>
<circle cx="789.5" cy="448.55" r="6.85" fill="#fff" stroke="#a631c6" stroke-width="1.3"/>
<path d="M790.8 444.9L785.8 449.6H788.5L786.6 453.4L791.6 447.7H789.2z" fill="#a02cc0"/>
<circle cx="798.05" cy="448.05" r="7.35" fill="#fff" stroke="#f24a5b" stroke-width="1.3"/>
<clipPath id="fc"><circle cx="798.1" cy="448.05" r="5.9"/></clipPath>
<g clip-path="url(#fc)"><rect x="791" y="441" width="14" height="14" fill="#fff"/><rect x="791" y="443" width="14" height="1.5" fill="#f58d93"/><rect x="791" y="447" width="14" height="2.3" fill="#ef4646"/><rect x="791" y="451" width="14" height="2.5" fill="#ef4646"/><rect x="791" y="441" width="8.1" height="8.7" fill="#3f8fe8"/><path d="M794 442.6v6.6M795.8 442v7.2M797.6 442v7.2" stroke="#9cc8f7" stroke-width="0.75"/></g>
<g fill="#101010">
<path d="M8.7 493.9H17.1V504.1H13.05V498H8.7z"/>
<circle cx="20.9" cy="495.9" r="2.05"/>
<path d="M25.6 493.9H29.9L25.9 504.1H21.2z"/>
</g>
<text x="35" y="504.2" font-size="14.9" font-weight="bold" fill="#101010" textLength="87" lengthAdjust="spacingAndGlyphs">TradingView</text>
</svg>
</body></html>
